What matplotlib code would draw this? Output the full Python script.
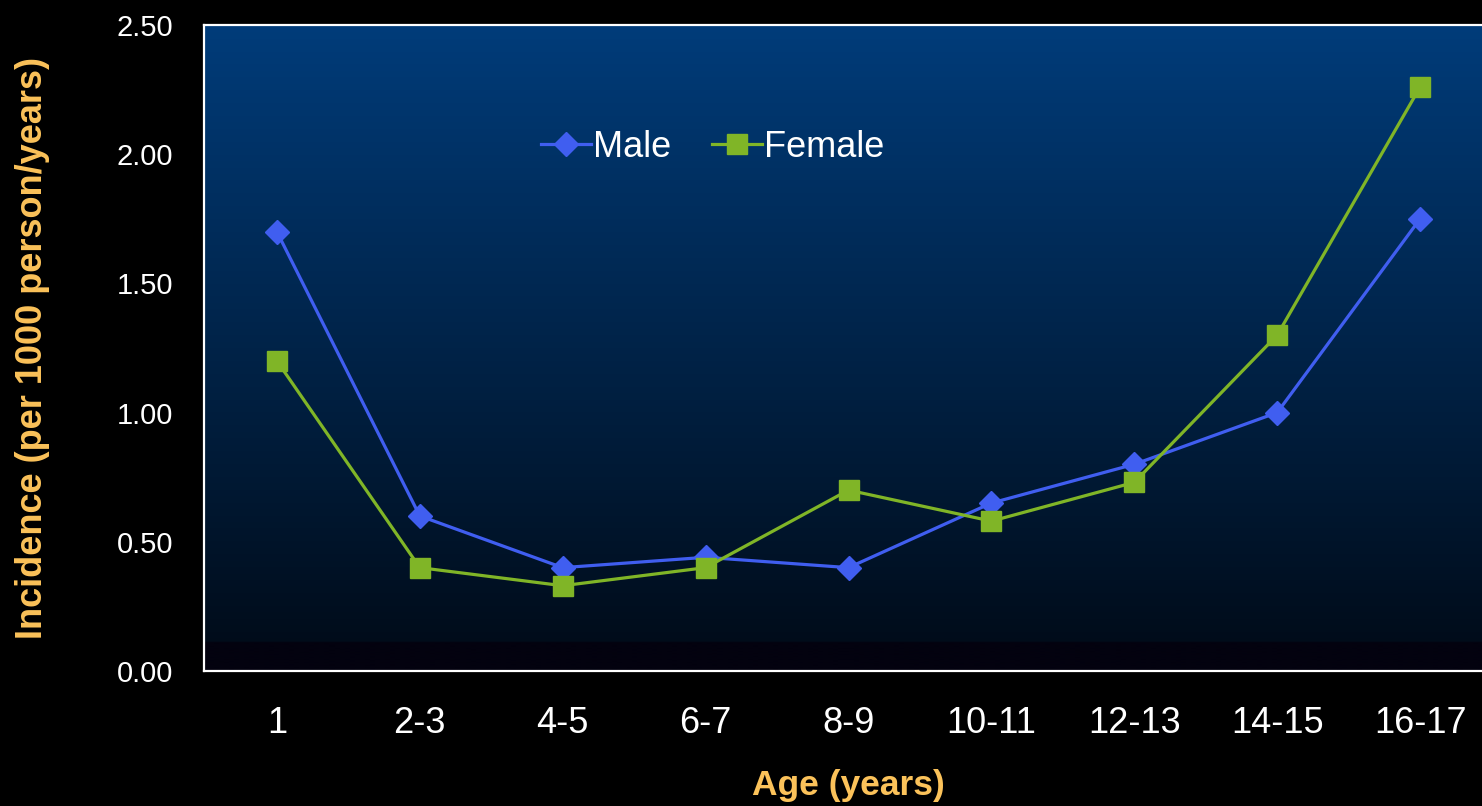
import matplotlib
matplotlib.use("Agg")
import matplotlib.pyplot as plt
import numpy as np

# ---- data ----
age_groups = ["1", "2-3", "4-5", "6-7", "8-9", "10-11", "12-13", "14-15", "16-17"]
male = [1.70, 0.60, 0.40, 0.44, 0.40, 0.65, 0.80, 1.00, 1.75]
female = [1.20, 0.40, 0.33, 0.40, 0.70, 0.58, 0.73, 1.30, 2.26]
y_ticks = [0.0, 0.5, 1.0, 1.5, 2.0, 2.5]

font = "Liberation Sans"

fig = plt.figure(figsize=(14.82, 8.06), dpi=100, facecolor="black")
ax = fig.add_axes([204 / 1482, 1 - 671 / 806, (1493 - 204) / 1482, 646 / 806])
ax.set_facecolor("black")

# vertical gradient background: blue at the top fading to near-black, dark band at the base
n = 400
top = np.array([0, 60, 122]) / 255
bot = np.array([1, 10, 22]) / 255
band = np.array([3, 2, 15]) / 255
t = np.linspace(0, 1, n)[:, None]
grad = top * (1 - t) + bot * t
band_rows = int(round(n * 0.045))
grad[-band_rows:] = band
ax.imshow(grad[:, None, :], extent=[0, 1, 0, 1], transform=ax.transAxes,
          aspect="auto", zorder=0, interpolation="bilinear")

x = np.arange(len(age_groups))
ax.plot(x, male, color="#405EF0", lw=2.3, marker="D", ms=12.5, mec="#405EF0",
        label="Male", zorder=3)
ax.plot(x, female, color="#80B527", lw=2.3, marker="s", ms=14.5, mec="#80B527",
        label="Female", zorder=3)

ax.set_xlim(-0.51, 8.51)
ax.set_ylim(0, 2.5)
ax.set_xticks(x)
ax.set_xticklabels(age_groups, fontsize=26, color="white", family=font)
ax.set_yticks(y_ticks)
ax.set_yticklabels([f"{v:.2f}" for v in y_ticks], fontsize=21, color="white", family=font)
ax.tick_params(axis="both", length=0)
ax.tick_params(axis="x", pad=25)
ax.tick_params(axis="y", pad=22)

for side in ["left", "bottom", "top"]:
    ax.spines[side].set_color("white")
    ax.spines[side].set_linewidth(1.6)
ax.spines["right"].set_visible(False)

label_color = "#FBC25A"
ax.set_ylabel("Incidence (per 1000 person/years)", fontsize=26, fontweight="bold",
              color=label_color, family=font)
ax.yaxis.set_label_coords(-0.1327, 0.5)
ax.yaxis.label.set_va("center")
ax.set_xlabel("Age (years)", fontsize=25.5, fontweight="bold", color=label_color, family=font)
ax.xaxis.set_label_coords(0.5, -0.1765)
ax.xaxis.label.set_va("center")

leg = ax.legend(loc="center left", bbox_to_anchor=(0.2614, 0.811), ncol=2, frameon=False,
                borderaxespad=0, borderpad=0, handlelength=1.38, handletextpad=0.05,
                columnspacing=1.15, prop={"family": font, "size": 26})
for txt in leg.get_texts():
    txt.set_color("white")

fig.savefig("out.png", dpi=100, facecolor="black")
